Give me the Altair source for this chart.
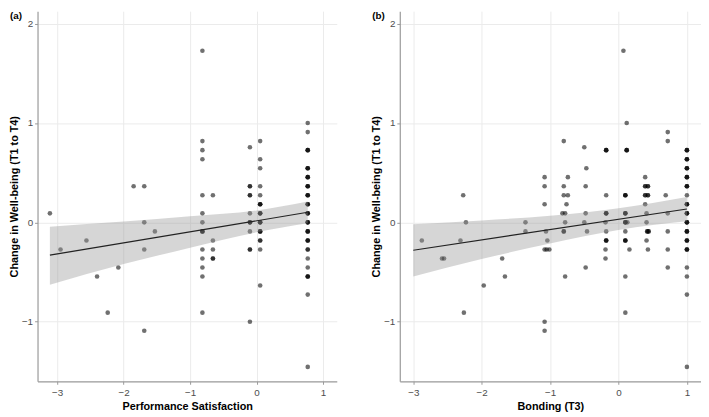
import altair as alt
import pandas as pd

# ---- Panel (a): Performance Satisfaction ----
a_x = [-0.815, 0.77, 0.77, -0.815, -0.815, -0.815, -0.10, 0.054, 0.054, 0.054,
       0.77, 0.77, 0.77, 0.77, 0.77, 0.77, -1.85, -1.69, -0.10, -0.10,
       0.054, 0.054, 0.054, -0.815, -0.657, -3.11, -2.95, -2.56, -2.40, -2.24,
       -2.08, -1.69, -1.69, -1.69, -1.53, -0.815, -0.815, -0.815, -0.815, -0.815,
       -0.815, -0.815, -0.815, -0.657, -0.657, -0.657, -0.10, -0.10, -0.10, -0.10,
       -0.10, 0.054, 0.054, 0.054, 0.054, 0.054, 0.054, 0.77, 0.77, 0.77,
       0.77, 0.77, 0.77, 0.77, 0.77, 0.77, 0.77]
a_y = [1.727, 1.0, 0.909, 0.818, 0.727, 0.636, 0.756, 0.818, 0.636, 0.545,
       0.727, 0.545, 0.455, 0.364, 0.273, 0.182, 0.364, 0.364, 0.364, 0.273,
       0.364, 0.273, 0.182, 0.273, 0.273, 0.091, -0.273, -0.182, -0.545, -0.909,
       -0.455, 0.0, -0.273, -1.091, -0.091, 0.091, 0.0, -0.091, -0.273, -0.364,
       -0.455, -0.545, -0.909, -0.182, -0.273, -0.364, 0.091, 0.0, -0.091, -0.273,
       -1.0, 0.091, 0.0, -0.091, -0.182, -0.273, -0.636, 0.091, 0.0, -0.091,
       -0.182, -0.273, -0.364, -0.455, -0.545, -0.727, -1.455]
a_n = [1, 1, 1, 1, 1, 1, 1, 1, 1, 1,
       3, 3, 3, 3, 3, 3, 1, 1, 2, 2,
       1, 1, 3, 1, 1, 1, 1, 1, 1, 1,
       1, 1, 1, 1, 1, 1, 1, 3, 1, 1,
       1, 1, 1, 1, 1, 2, 1, 3, 1, 2,
       1, 3, 3, 3, 2, 1, 1, 3, 3, 3,
       3, 2, 1, 1, 3, 1, 1]

# fitted line and 95% band of panel (a)
a_fit_x = [-3.11, 0.77]
a_fit_y = [-0.33, 0.102]
a_band_x = [-3.11, -2.0, -1.0, 0.0, 0.77]
a_band_lo = [-0.627, -0.42, -0.255, -0.10, -0.01]
a_band_hi = [-0.043, 0.008, 0.062, 0.12, 0.21]

# ---- Panel (b): Bonding (T3) ----
b_x = [0.072, 0.12, 0.72, 0.72, -0.80, -0.50, -0.18, 0.12, 1.0, 1.0,
       1.0, 1.0, 1.0, 1.0, 1.0, -0.47, -1.08, -1.08, -1.08, -0.80,
       -0.80, -0.74, -0.74, -0.76, -0.48, -2.27, -0.18, 0.10, 0.39, 0.39,
       0.43, 0.39, 0.43, 0.39, 0.69, -2.875, -2.58, -2.55, -2.31, -2.23,
       -2.26, -1.97, -1.70, -1.66, -1.36, -1.36, -1.08, -1.05, -1.01, -1.06,
       -1.04, -1.08, -1.08, -0.82, -0.78, -0.78, -0.80, -0.78, -0.48, -0.50,
       -0.46, -0.48, -0.18, -0.19, -0.18, -0.18, -0.19, -0.19, 0.10, 0.10,
       0.13, 0.10, 0.10, 0.16, 0.10, 0.10, 0.41, 0.41, 0.42, 0.44,
       0.41, 0.43, 0.72, 0.72, 0.72, 0.72, 1.0, 1.0, 1.0, 1.0,
       1.0, 1.0, 1.0, 1.0, 1.0]
b_y = [1.727, 1.0, 0.909, 0.818, 0.818, 0.756, 0.727, 0.727, 0.727, 0.636,
       0.545, 0.455, 0.364, 0.273, 0.182, 0.545, 0.455, 0.364, 0.182, 0.364,
       0.273, 0.273, 0.455, 0.182, 0.364, 0.273, 0.273, 0.273, 0.455, 0.364,
       0.364, 0.273, 0.273, 0.182, 0.273, -0.182, -0.364, -0.364, -0.182, 0.0,
       -0.909, -0.636, -0.364, -0.545, 0.0, -0.091, -0.273, -0.273, -0.273, -0.091,
       -0.182, -1.0, -1.091, 0.091, 0.091, 0.0, -0.091, -0.545, 0.091, 0.0,
       -0.091, -0.455, 0.091, 0.0, -0.091, -0.182, -0.273, -0.364, 0.091, 0.0,
       0.0, -0.091, -0.182, -0.273, -0.545, -0.909, 0.091, 0.0, -0.091, -0.091,
       -0.182, -0.273, 0.091, -0.091, -0.273, -0.455, 0.091, 0.0, -0.091, -0.182,
       -0.273, -0.455, -0.545, -0.727, -1.455]
b_n = [1, 1, 1, 1, 1, 1, 3, 3, 3, 3,
       3, 3, 3, 1, 3, 1, 1, 1, 1, 1,
       1, 1, 1, 1, 1, 1, 1, 3, 1, 2,
       2, 2, 2, 1, 1, 1, 1, 1, 1, 1,
       1, 1, 1, 1, 1, 1, 1, 1, 1, 1,
       1, 1, 1, 1, 1, 1, 2, 1, 1, 1,
       1, 1, 3, 1, 1, 3, 1, 1, 3, 3,
       1, 1, 3, 1, 1, 1, 1, 1, 2, 2,
       1, 1, 1, 1, 1, 1, 3, 3, 3, 3,
       3, 1, 1, 1, 1]

# fitted line and 95% band of panel (b)
b_fit_x = [-3.0, 1.0]
b_fit_y = [-0.28, 0.135]
b_band_x = [-3.0, -2.0, -1.0, 0.0, 1.0]
b_band_lo = [-0.545, -0.37, -0.212, -0.076, 0.01]
b_band_hi = [-0.02, 0.02, 0.066, 0.142, 0.255]

a_domain = [-3.296, 1.207]
b_domain = [-3.197, 1.206]
y_domain = [-1.60, 2.126]
x_ticks = [-3, -2, -1, 0, 1]
y_ticks = [-1, 0, 1, 2]

FONT = "Liberation Sans"


def expand(xs, ys, ns):
    rx, ry = [], []
    for x, y, n in zip(xs, ys, ns):
        rx += [x] * n
        ry += [y] * n
    return pd.DataFrame({"x": rx, "y": ry})


def panel(xs, ys, ns, fx, fy, bx, blo, bhi, dom, xtitle, label, w):
    pts = expand(xs, ys, ns)
    band = pd.DataFrame({"x": bx, "lo": blo, "hi": bhi})
    fit = pd.DataFrame({"x": fx, "fit": fy})
    xscale = alt.Scale(domain=dom, nice=False, zero=False)
    yscale = alt.Scale(domain=y_domain, nice=False, zero=False)
    xaxis = alt.Axis(values=x_ticks, format="d", title=xtitle)
    yaxis = alt.Axis(values=y_ticks, format="d", title="Change in Well-being (T1 to T4)")

    points = alt.Chart(pts).mark_circle(size=22, color="black", opacity=0.56).encode(
        x=alt.X("x:Q", scale=xscale, axis=xaxis),
        y=alt.Y("y:Q", scale=yscale, axis=yaxis),
    )
    area = alt.Chart(band).mark_area(color="#999999", opacity=0.4, interpolate="monotone").encode(
        x=alt.X("x:Q", scale=xscale),
        y=alt.Y("lo:Q", scale=yscale),
        y2="hi:Q",
    )
    line = alt.Chart(fit).mark_line(color="#222222", strokeWidth=1.1).encode(
        x=alt.X("x:Q", scale=xscale),
        y=alt.Y("fit:Q", scale=yscale),
    )
    txt = alt.Chart(pd.DataFrame({"t": [label]})).mark_text(
        align="left", baseline="top", font=FONT, fontSize=10, fontWeight="bold", color="black"
    ).encode(x=alt.value(-28), y=alt.value(0), text="t:N")
    return alt.layer(points, area, line, txt).properties(width=w, height=376)


left = panel(a_x, a_y, a_n, a_fit_x, a_fit_y, a_band_x, a_band_lo, a_band_hi,
             a_domain, "Performance Satisfaction", "(a)", 304)
right = panel(b_x, b_y, b_n, b_fit_x, b_fit_y, b_band_x, b_band_lo, b_band_hi,
              b_domain, "Bonding (T3)", "(b)", 306)

chart = alt.hconcat(left, right, spacing=34).properties(padding=0).configure_view(
    stroke=None
).configure_axis(
    gridColor="#ebebeb",
    gridWidth=1,
    domainColor="#999999",
    domainWidth=1.2,
    tickColor="#999999",
    tickSize=3,
    labelColor="#4d4d4d",
    labelFont=FONT,
    labelFontSize=10,
    titleFont=FONT,
    titleFontSize=11,
    titleFontWeight="bold",
    titleColor="black",
).configure_axisY(
    labelPadding=2,
    titlePadding=2,
).configure_axisX(
    labelPadding=3,
    titlePadding=4,
)

chart.save("out.html", embed_options={"renderer": "svg", "actions": False})
